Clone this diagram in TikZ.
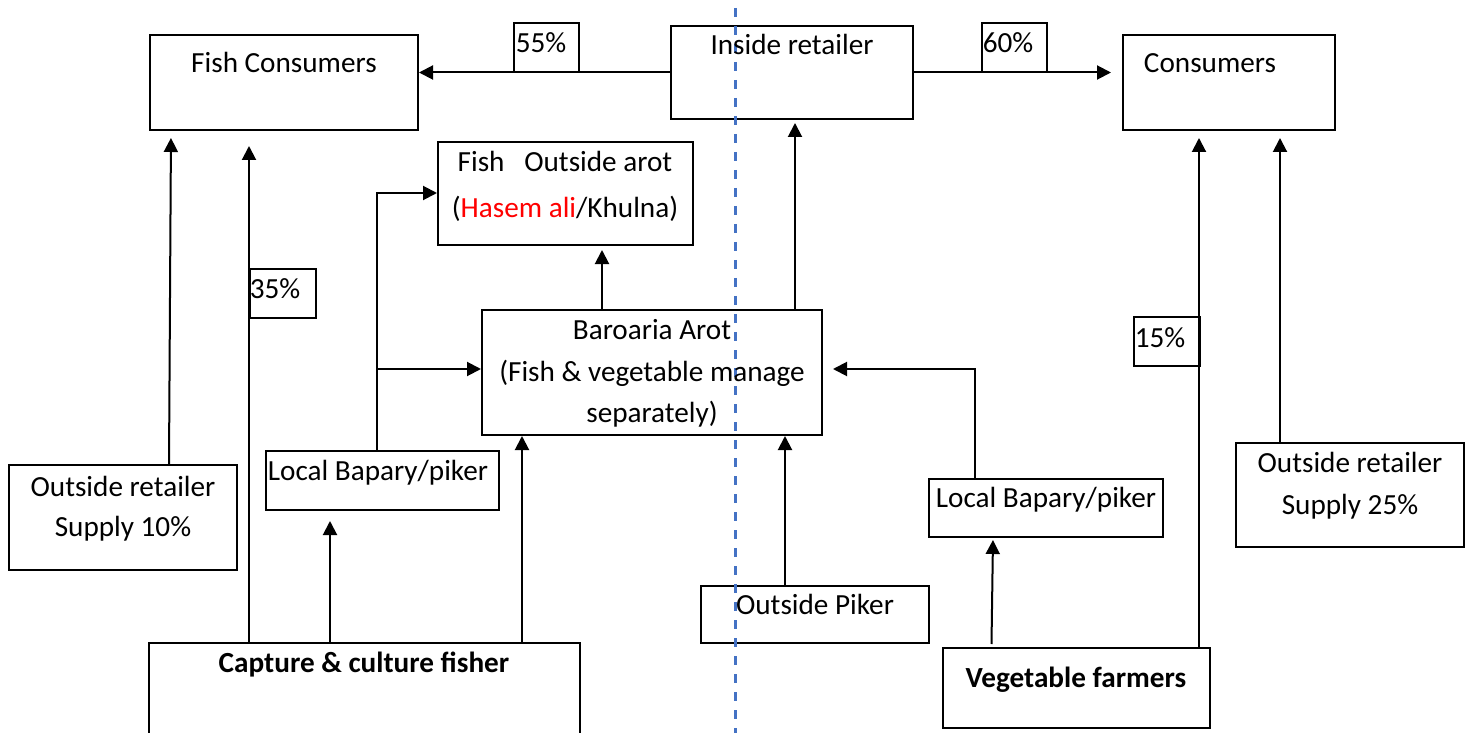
\documentclass[tikz,border=0pt]{standalone}
\usepackage{fontspec}
\setmainfont{Carlito}
\usetikzlibrary{arrows.meta,calc,fit}
\definecolor{divider}{RGB}{68,114,196}
\begin{document}
\begin{tikzpicture}[x=0.5pt,y=-0.5pt,
  box/.style={draw, line width=1pt, inner sep=0pt},
  lbl/.style={anchor=base, inner sep=0pt, font=\fontsize{14.6}{17}\selectfont},
  lblb/.style={lbl, font=\fontsize{14.6}{17}\selectfont\bfseries},
  arr/.style={line width=1pt, -{Triangle[length=7pt,width=7pt]}},
  link/.style={line width=1pt}]
\useasboundingbox (0,0) rectangle (1474,733);
\clip (0,0) rectangle (1474,733);

% boxes
\node[box, fit={(150,35) (418,130)}] (fishcons) {};
\node[box, fit={(671,26) (913,119)}] (inside) {};
\node[box, fit={(1123,35) (1335,130)}] (cons) {};
\node[box, fit={(438,142) (693,245)}] (outarot) {};
\node[box, fit={(482,310) (822,435)}] (baro) {};
\node[box, fit={(9,465) (237,570)}] (orten) {};
\node[box, fit={(266,451) (499,510)}] (lbleft) {};
\node[box, fit={(149,643) (580,745)}] (capture) {};
\node[box, fit={(701,586) (929,643)}] (opiker) {};
\node[box, fit={(929,479) (1163,537)}] (lbright) {};
\node[box, fit={(943,648) (1210,728)}] (vegf) {};
\node[box, fit={(1236,443) (1464,547)}] (ortwenty) {};

% divider between fish and vegetable sides
\draw[divider, line width=1.5pt, dash pattern=on 4.6pt off 4.4pt] (735,8) coordinate (dtop) -- (735,733) coordinate (dbot);

% connectors
\draw[arr] (inside.west) -- (inside.west -| fishcons.east);
\draw[arr, shorten >=5.5pt] (inside.east) -- (inside.east -| cons.west);
\draw[arr, shorten >=3.5pt] ($(orten.north)+(46,0)$) -- ($(fishcons.south)+(-113,0)$);
\draw[arr, shorten >=7.5pt] ($(capture.north west)+(101,0)$) coordinate (c1) -- (c1 |- fishcons.south);
\draw[arr, shorten >=5pt] ($(capture.north west)+(182,0)$) coordinate (c2) -- (c2 |- lbleft.south);
\draw[arr] ($(capture.north west)+(374,0)$) coordinate (c3) -- (c3 |- baro.south);
\draw[arr] ($(lbleft.north)+(-5.5,0)$) coordinate (l1) |- ($(outarot.west)+(0,-0.5)$);
\draw[arr] (l1 |- 0,369) coordinate (l2) -- (l2 -| baro.west);
\draw[arr, shorten >=2pt] ($(baro.north)+(-50,0)$) coordinate (b1) -- (b1 |- outarot.south);
\draw[arr, shorten >=1.5pt] ($(baro.north)+(143,0)$) coordinate (b2) -- (b2 |- inside.south);
\draw[arr] ($(opiker.north)+(-30,0)$) coordinate (o1) -- (o1 |- baro.south);
\draw[arr, shorten >=5pt] ($(lbright.north)+(-71,0)$) coordinate (r1) |- ($(baro.east)+(0,-3.5)$);
\draw[arr, shorten >=1pt] ($(vegf.north)+(-85,-3)$) -- ($(lbright.south)+(-53,0)$);
\draw[arr, shorten >=3.5pt] ($(vegf.north west)+(257,0)$) coordinate (v1) -- (v1 |- cons.south);
\draw[arr, shorten >=3.5pt] ($(ortwenty.north)+(-70,0)$) coordinate (w1) -- (w1 |- cons.south);

% percentage tags
\node[box, fit={(514,23) (579,72)}] (p55) {};
\node[box, fit={(982,23) (1047,72)}] (p60) {};
\node[box, fit={(250,269) (316,318)}] (p35) {};
\node[box, fit={(1134,317) (1200,366)}] (p15) {};

% texts
\node[lbl] (t1) at (284,73) {Fish Consumers};
\node[lbl] (t2) at (792,55) {Inside retailer};
\node[lbl] (t3) at (1210,73) {Consumers};
\node[lbl] (t4) at (541,53) {55\%};
\node[lbl] (t5) at (1008,53) {60\%};
\node[lbl] (t6) at (275,299) {35\%};
\node[lbl] (t7) at (1160,347) {15\%};
\node[lbl] (t8) at (565,172) {Fish\ \ \ Outside arot};
\node[lbl] (t9) at (565,218) {(\textcolor{red}{Hasem ali}/Khulna)};
\node[lbl] (t10) at (652,339) {Baroaria Arot};
\node[lbl] (t11) at (652,381) {(Fish \& vegetable manage};
\node[lbl] (t12) at (652,422) {separately)};
\node[lbl] (t13) at (123,496) {Outside retailer};
\node[lbl] (t14) at (123,536) {Supply 10\%};
\node[lbl] (t15) at (378,480) {Local Bapary/piker};
\node[lblb] (t16) at (364,672) {Capture \& culture fisher};
\node[lbl] (t17) at (815,614) {Outside Piker};
\node[lbl] (t18) at (1046,507) {Local Bapary/piker};
\node[lblb] (t19) at (1076,687) {Vegetable farmers};
\node[lbl] (t20) at (1350,472) {Outside retailer};
\node[lbl] (t21) at (1350,514) {Supply 25\%};
\end{tikzpicture}
\end{document}
